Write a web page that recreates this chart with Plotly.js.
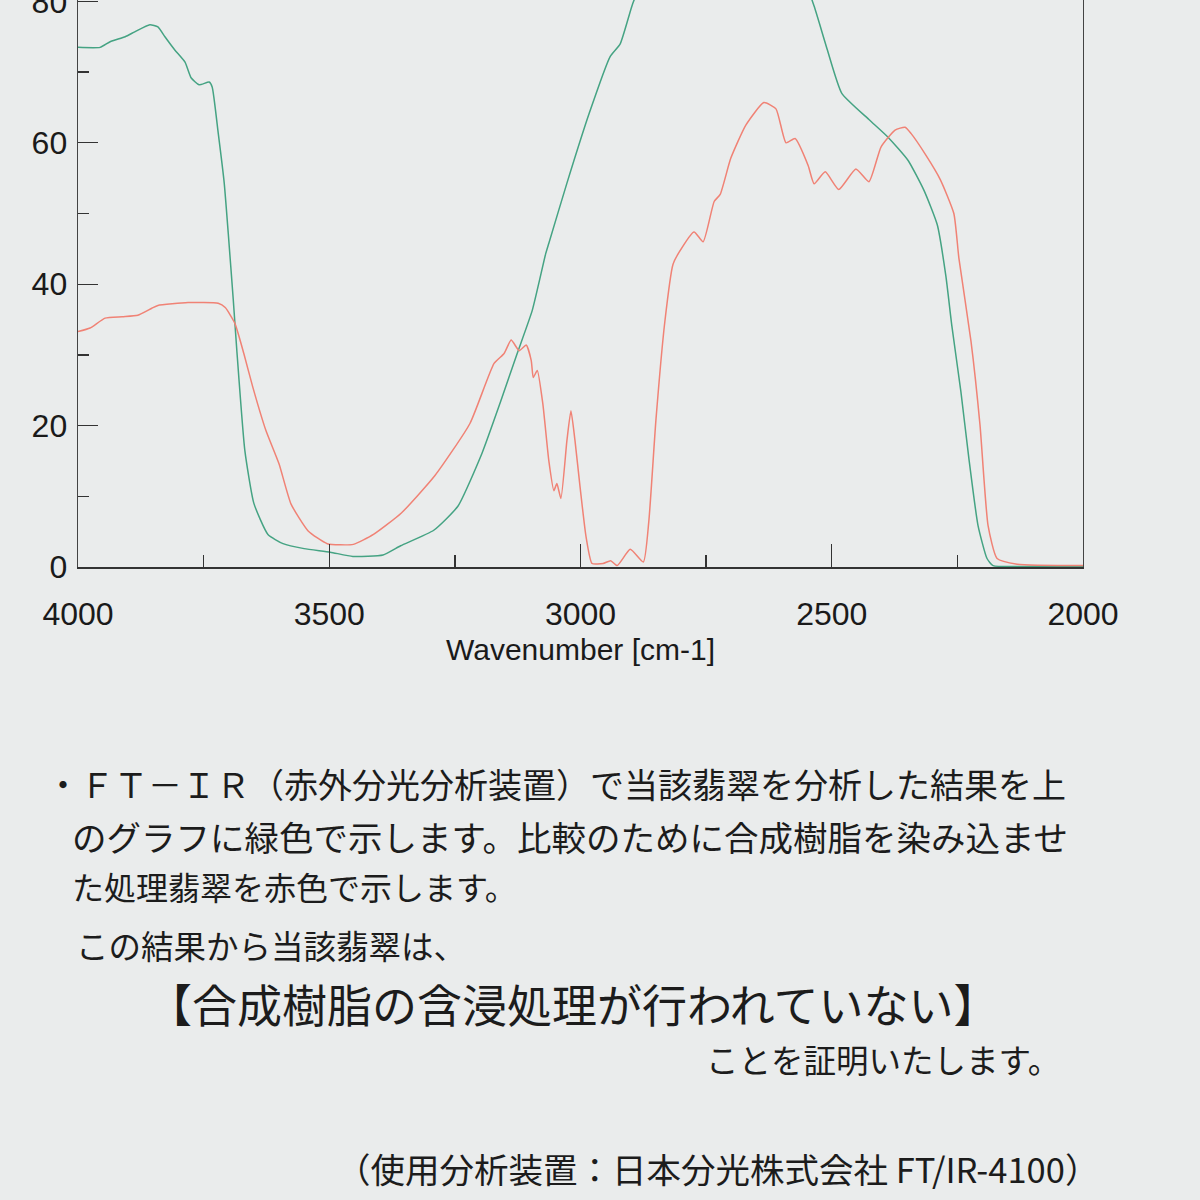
<!DOCTYPE html>
<html><head><meta charset="utf-8">
<script src="https://cdn.plot.ly/plotly-3.0.1.min.js"></script>
<style>html,body{margin:0;padding:0;background:#eaecec}</style>
</head><body><div id="chart" style="width:1200px;height:1200px"></div>
<script>
// ---- data ----
const jadeWavenumber = [4000,3956,3936,3906,3887,3857,3841,3827,3807,3787,3775,3759,3739,3733,3721,3709,3701,3691,3684,3668,3650,3622,3592,3550,3498,3453,3393,3358,3292,3244,3196,3160,3126,3096,3069,3063,3027,2983,2941,2921,2896,2870,2820,2750,2680,2620,2570,2535,2509,2480,2426,2388,2348,2316,2290,2273,2261,2243,2227,2209,2191,2179,2100,2000];
const jadeTransmittance = [73.5,73.5,74.3,75.0,75.7,76.7,76.4,75.0,73.1,71.4,69.2,68.2,68.6,67.9,61.4,54.3,47.2,37.8,30.7,16.5,9.0,4.6,3.3,2.6,2.1,1.5,1.7,3.0,5.2,8.6,16.1,23.2,30.2,36.3,44.4,45.8,54.3,64.1,72.2,74.0,79.7,84,89,92,93,91,86,79.3,73.2,67.0,63.3,60.8,57.5,53.2,48.4,41.2,34.1,24.8,15.3,5.9,1.2,0.2,0.1,0.1];
const treatedWavenumber = [4000,3976,3946,3912,3881,3853,3841,3781,3721,3707,3688,3670,3652,3626,3600,3576,3542,3504,3452,3412,3357,3290,3220,3172,3152,3138,3122,3108,3098,3094,3086,3075,3063,3053,3047,3039,3027,3019,3011,3001,2989,2977,2955,2940,2927,2901,2875,2864,2850,2832,2816,2804,2774,2756,2734,2722,2701,2671,2635,2611,2591,2573,2547,2535,2513,2486,2452,2426,2402,2374,2354,2342,2314,2284,2257,2247,2223,2205,2189,2171,2131,2000];
const treatedTransmittance = [33.3,33.8,35.2,35.4,35.6,36.6,37.0,37.4,37.3,36.7,34.5,30.2,25.4,19.3,14.6,8.9,5.1,3.3,3.2,4.6,7.6,12.9,20.3,28.8,30.2,32.1,30.6,31.4,29.2,26.8,27.8,23.1,15.0,10.8,11.8,9.7,17.9,22.1,17.9,11.4,4.3,0.5,0.5,0.9,0.2,2.5,0.7,6.5,20.7,34.8,42.8,44.5,47.4,46.0,51.7,52.7,57.8,62.5,65.7,64.8,60.0,60.6,56.8,54.2,55.9,53.4,56.3,54.5,59.4,61.8,62.2,61.3,58.4,54.8,50.0,43.7,32.0,20.1,5.9,1.2,0.4,0.2];
const xTickValues = [4000,3500,3000,2500,2000];
const yTickValues = [0,20,40,60,80];
const xAxisTitle = 'Wavenumber [cm-1]';
const noteLines = [
  '・ＦＴ－ＩＲ（赤外分光分析装置）で当該翡翠を分析した結果を上',
  'のグラフに緑色で示します。比較のために合成樹脂を染み込ませ',
  'た処理翡翠を赤色で示します。',
  'この結果から当該翡翠は、',
  '【合成樹脂の含浸処理が行われていない】',
  'ことを証明いたします。',
  '（使用分析装置：日本分光株式会社 FT/IR-4100）'
];

// ---- layout helpers ----
const W = 1200, H = 1200;
const M = {l:78, r:117, t:0, b:633};
const pw = W - M.l - M.r, ph = H - M.t - M.b;
const px = v => (v - M.l) / pw;
const py = v => (M.t + ph - v) / ph;

const annotations = [];
const jp = 'Noto Sans CJK JP';
const noteSpecs = [
  {x:1068, y:783, anchor:'right', size:34},
  {x:70,   y:836, anchor:'left',  size:34.5},
  {x:70,   y:886, anchor:'left',  size:32},
  {x:74,   y:945, anchor:'left',  size:32.5},
  {x:572,  y:1003, anchor:'center', size:45},
  {x:1062, y:1058, anchor:'right', size:32.5},
  {x:717,  y:1168, anchor:'center', size:34.5}
];
noteLines.forEach((t, i) => {
  const s = noteSpecs[i];
  annotations.push({
    xref:'paper', yref:'paper', x: px(s.x), y: py(s.y),
    xanchor: s.anchor, yanchor:'middle', showarrow:false, text:t,
    font:{family:jp, size:s.size, color:'#1c1c1c'}
  });
});

const traces = [
  {x: jadeWavenumber, y: jadeTransmittance, type:'scatter', mode:'lines',
   line:{color:'#45a383', width:1.5, shape:'spline', smoothing:0.5}, name:'翡翠', hoverinfo:'skip'},
  {x: treatedWavenumber, y: treatedTransmittance, type:'scatter', mode:'lines',
   line:{color:'#f08275', width:1.5, shape:'spline', smoothing:0.5}, name:'処理翡翠', hoverinfo:'skip'}
];

const tickFont = {family:'Liberation Sans, Arial, sans-serif', size:32, color:'#1a1a1a'};
const layout = {
  width: W, height: H, margin: M,
  paper_bgcolor:'#eaecec', plot_bgcolor:'rgba(0,0,0,0)',
  showlegend:false,
  xaxis:{
    range:[4000,2000], tickmode:'array', tickvals:xTickValues,
    ticks:'inside', ticklen:23, tickwidth:1.3, tickcolor:'#333',
    minor:{dtick:250, tick0:2000, ticks:'inside', ticklen:12, tickwidth:1.3, tickcolor:'#333', showgrid:false},
    showline:true, linecolor:'#333', linewidth:1.5, mirror:false,
    showgrid:false, zeroline:false, ticklabelstandoff:18, tickfont:tickFont,
    title:{text:xAxisTitle, font:{family:'Liberation Sans, Arial, sans-serif', size:30, color:'#1a1a1a'}, standoff:8}
  },
  yaxis:{
    range:[0,80.2], tickmode:'array', tickvals:yTickValues,
    ticks:'inside', ticklen:20, tickwidth:1.3, tickcolor:'#333',
    minor:{dtick:10, tick0:0, ticks:'inside', ticklen:11, tickwidth:1.3, tickcolor:'#333', showgrid:false},
    showline:true, linecolor:'#444', linewidth:1.4, mirror:true,
    showgrid:false, zeroline:false, ticklabelstandoff:3, ticklabeloverflow:'allow', tickfont:tickFont
  },
  annotations: annotations
};
Plotly.newPlot('chart', traces, layout, {staticPlot:true, displayModeBar:false});
</script>
</body></html>
